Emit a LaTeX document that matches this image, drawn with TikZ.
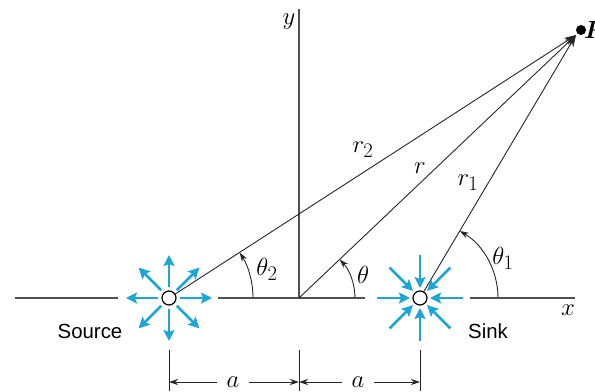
\documentclass[tikz,border=0pt]{standalone}
\usepackage{amsmath}
\usepackage{fontspec}
\setsansfont{Liberation Sans}
\usepackage{tikz}
\usetikzlibrary{arrows.meta,calc}
\definecolor{flowCyan}{RGB}{30,165,215}
\definecolor{axisGray}{RGB}{80,80,80}

\begin{document}
\begin{tikzpicture}[x=1bp, y=1bp, font=\fontsize{24.88}{28}\selectfont,
    axisline/.style={axisGray, line width=1.6bp},
    rayline/.style={black!85, line width=0.9bp, -{Stealth[length=12bp,width=8bp]}},
    anglearc/.style={black!85, line width=0.9bp, -{Stealth[length=9bp,width=6bp]}},
    flowarrow/.style={flowCyan, line width=2.8bp, -{Stealth[length=11bp,width=11bp,inset=2bp]}},
    dimarrow/.style={black!85, line width=0.9bp, -{Stealth[length=9bp,width=6bp]}},
    sinklabel/.style={font=\sffamily\fontsize{20.5}{24}\selectfont}]
  \useasboundingbox (-299,-93) rectangle (296,298);

  % Points
  \coordinate (O) at (0,0);
  \coordinate (src) at (-130,0);
  \coordinate (snk) at (121,0);
  \coordinate (tip) at (277,263);
  \coordinate (P) at (282,268);

  % Axes
  \draw[axisline] (-284,0) -- (-181,0);
  \draw[axisline] (-81,0) -- (66,0);
  \draw[axisline] (171,0) -- (276,0);
  \draw[axisGray, line width=1.4bp] (O) -- (0,289);
  \node (xlab) at (269,-12) {$x$};
  \node (ylab) at (-10,276) {$y$};

  % Rays to P
  \draw[rayline] (src) -- (tip);
  \draw[rayline] (O) -- (tip);
  \draw[rayline] (snk) -- (tip);
  \fill (P) circle (5);
  \node[right, inner sep=3bp] (Plab) at (P) {$\boldsymbol{P}$};

  % Source and sink
  \foreach \ang in {0,45,...,315} {
    \draw[flowarrow] ($(src)+(\ang:11)$) -- ($(src)+(\ang:43)$);
    \draw[flowarrow] ($(snk)+(\ang:43)$) -- ($(snk)+(\ang:10)$);
  }
  \node[circle, draw, line width=1.2bp, fill=white, minimum size=14bp, inner sep=0] (srcC) at (src) {};
  \node[circle, draw, line width=1.2bp, fill=white, minimum size=14bp, inner sep=0] (snkC) at (snk) {};
  \node[sinklabel] (srcLab) at (-209,-33) {Source};
  \node[sinklabel] (snkLab) at (189,-33) {Sink};

  % Angles
  \draw[anglearc] ($(src)+(84,0)$) arc[start angle=0, end angle=32.7, radius=84];
  \draw[anglearc] ($(O)+(56,0)$) arc[start angle=0, end angle=43.5, radius=56];
  \draw[anglearc] ($(snk)+(78,0)$) arc[start angle=0, end angle=59.3, radius=78];
  \node (th2) at (-32,29) {$\theta_2$};
  \node (th) at (64,23) {$\theta$};
  \node (th1) at (204,40) {$\theta_1$};
  \node (r2) at (64,148) {$r_2$};
  \node (r) at (121,130) {$r$};
  \node (r1) at (169,115) {$r_1$};

  % Dimensions
  \coordinate (d0) at (-130,-84);
  \coordinate (d1) at (0,-84);
  \coordinate (d2) at (121,-84);
  \draw[black!85, line width=0.9bp] (-130,-52) -- (-130,-93);
  \draw[black!85, line width=0.9bp] (0,-52) -- (0,-93);
  \draw[black!85, line width=0.9bp] (121,-52) -- (121,-93);
  \node[inner xsep=9bp, inner ysep=0bp] (a1) at (-66,-84) {$a$};
  \node[inner xsep=9bp, inner ysep=0bp] (a2) at (59,-84) {$a$};
  \draw[dimarrow] (a1) -- (d0);
  \draw[dimarrow] (a1) -- (d1);
  \draw[dimarrow] (a2) -- (d1);
  \draw[dimarrow] (a2) -- (d2);
\end{tikzpicture}
\end{document}
